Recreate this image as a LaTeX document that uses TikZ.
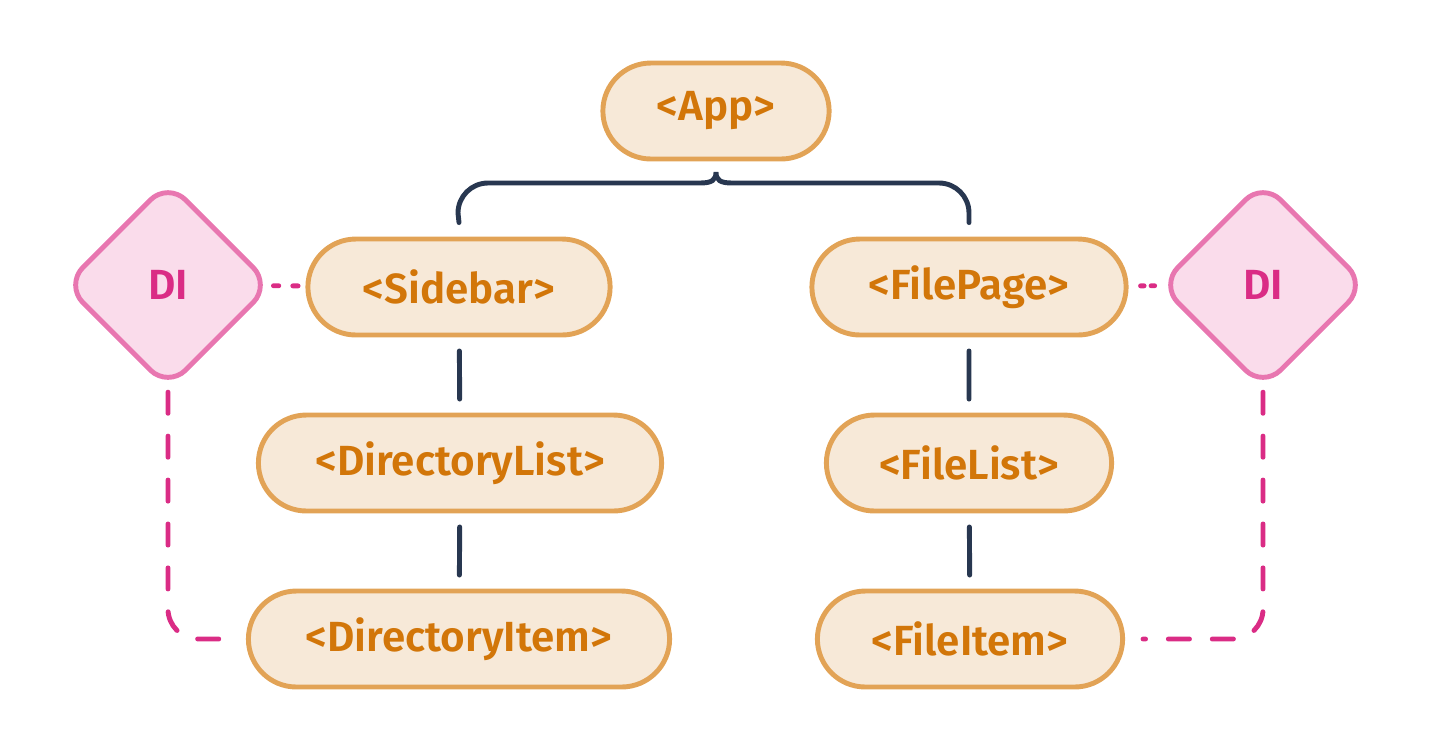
\documentclass[tikz,border=0pt]{standalone}
\usepackage{fontspec}
\setmainfont{Fira Sans}[BoldFont={Fira Sans SemiBold}]
\usetikzlibrary{shapes.geometric, shapes.misc, calc}
\definecolor{compfill}{HTML}{F7E9D8}
\definecolor{compline}{HTML}{E2A356}
\definecolor{comptext}{HTML}{D27609}
\definecolor{difill}{HTML}{FADCEB}
\definecolor{diline}{HTML}{E876B0}
\definecolor{ditext}{HTML}{DA2C85}
\definecolor{treeline}{HTML}{283750}

\begin{document}
\begin{tikzpicture}[x=0.02cm, y=-0.02cm,
	comp/.style={rounded rectangle, draw=compline, fill=compfill, line width=2.8pt,
		minimum height=1.92cm, text=comptext, font=\fontsize{24}{29}\selectfont\bfseries},
	di/.style={diamond, aspect=1, rounded corners=0.5cm, draw=diline, fill=difill,
		line width=2.8pt, minimum size=4.15cm, text=ditext, font=\fontsize{24}{29}\selectfont\bfseries},
	tree/.style={draw=treeline, line width=2.8pt, line cap=round},
	inject/.style={draw=ditext, line width=2.8pt, line cap=round, dash pattern=on 12pt off 13pt},
]
	\useasboundingbox (0,0) rectangle (1433,752);

	\node[comp, minimum width=4.76cm](app) at (716,111) {<App>};
	\node[comp, minimum width=6.28cm](sidebar) at (459,287) {<Sidebar>};
	\node[comp, minimum width=6.52cm](filepage) at (969,287) {<FilePage>};
	\node[comp, minimum width=8.3cm](dirlist) at (460,463) {<DirectoryList>};
	\node[comp, minimum width=5.94cm](filelist) at (969,463) {<FileList>};
	\node[comp, minimum width=8.66cm](diritem) at (459,639) {<DirectoryItem>};
	\node[comp, minimum width=6.34cm](fileitem) at (970,639) {<FileItem>};

	\node[di](diL) at (168,285) {DI};
	\node[di](diR) at (1263,285) {DI};

	% brace under App
	\coordinate(braceL) at ($(sidebar.north)+(0,-14)$);
	\coordinate(braceR) at ($(filepage.north)+(0,-14)$);
	\draw[tree] (braceL) -- (458,213) .. controls (458,196.4) and (471.4,183) .. (488,183)
		-- (700,183) .. controls (712,183) and (716,180) .. (716,172)
		.. controls (716,180) and (720,183) .. (732,183)
		-- (939,183) .. controls (955.6,183) and (969,196.4) .. (969,213) -- (braceR);

	\draw[tree, shorten <=0.27cm, shorten >=0.27cm] (sidebar) -- (dirlist);
	\draw[tree, shorten <=0.27cm, shorten >=0.27cm] (dirlist) -- (diritem);
	\draw[tree, shorten <=0.27cm, shorten >=0.27cm] (filepage) -- (filelist);
	\draw[tree, shorten <=0.27cm, shorten >=0.27cm] (filelist) -- (fileitem);

	% DI links
	\draw[inject, dash pattern=on 3pt off 8pt, shorten >=0.12cm] (diL) -- (sidebar);
	\draw[inject, dash pattern=on 2pt off 4pt, shorten <=0.24cm] (filepage) -- (diR);
	\draw[inject, rounded corners=0.6cm, shorten <=0.02cm, shorten >=0.3cm] (diL.south) |- (diritem.west);
	\draw[inject, rounded corners=0.6cm, shorten <=0.02cm, shorten >=0.36cm] (diR.south) |- (fileitem.east);
\end{tikzpicture}
\end{document}
